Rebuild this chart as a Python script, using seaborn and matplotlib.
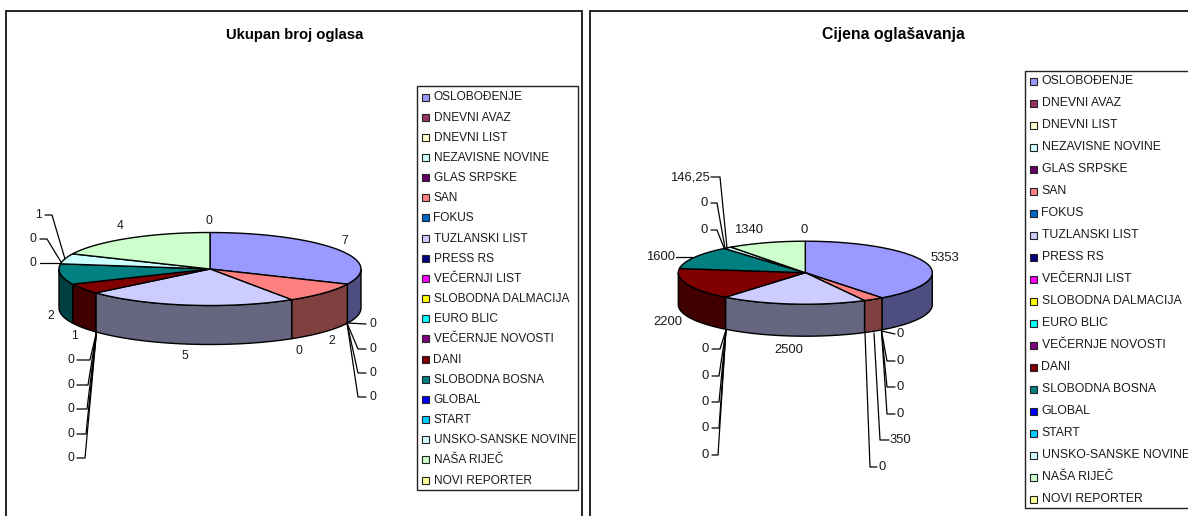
import numpy as np
import matplotlib
matplotlib.use("Agg")
import matplotlib.pyplot as plt
from matplotlib.patches import Rectangle
import seaborn as sns

newspapers = ["OSLOBOĐENJE", "DNEVNI AVAZ", "DNEVNI LIST", "NEZAVISNE NOVINE", "GLAS SRPSKE",
              "SAN", "FOKUS", "TUZLANSKI LIST", "PRESS RS", "VEČERNJI LIST",
              "SLOBODNA DALMACIJA", "EURO BLIC", "VEČERNJE NOVOSTI", "DANI", "SLOBODNA BOSNA",
              "GLOBAL", "START", "UNSKO-SANSKE NOVINE", "NAŠA RIJEČ", "NOVI REPORTER"]
broj_oglasa = [7, 0, 0, 0, 0, 2, 0, 5, 0, 0, 0, 0, 0, 1, 2, 0, 0, 1, 4, 0]
cijena = [5353, 0, 0, 0, 0, 350, 0, 2500, 0, 0, 0, 0, 0, 2200, 1600, 0, 0, 146.25, 1340, 0]
cijena_txt = ["5353", "0", "0", "0", "0", "350", "0", "2500", "0", "0", "0", "0", "0", "2200", "1600",
              "0", "0", "146,25", "1340", "0"]
colors = ["#9999FF", "#993366", "#FFFFCC", "#CCFFFF", "#660066", "#FF8080", "#0066CC", "#CCCCFF",
          "#000080", "#FF00FF", "#FFFF00", "#00FFFF", "#800080", "#800000", "#008080", "#0000FF",
          "#00CCFF", "#CCFFFF", "#CCFFCC", "#FFFF99"]

sns.set_theme(style="white")
plt.rcParams["font.family"] = ["Liberation Sans", "DejaVu Sans"]
palette = sns.color_palette(colors)

fig = plt.figure(figsize=(11.88, 5.16), dpi=100)
ax = fig.add_axes([0, 0, 1, 1])
ax.set_xlim(0, 1188)
ax.set_ylim(516, 0)
ax.axis("off")

TXT = "#1a1a1a"


def arc(cx, cy, rx, ry, a0, a1, dy=0):
    t = np.radians(np.linspace(a0, a1, 60))
    return cx + rx * np.sin(t), cy - ry * np.cos(t) + dy


def pie3d(values, cx, cy, rx, ry, depth):
    vals = np.array(values, dtype=float)
    ends = np.cumsum(vals) / vals.sum() * 360
    starts = ends - vals / vals.sum() * 360
    # rim first, only the front half shows
    for a0, a1, c, v in zip(starts, ends, palette, vals):
        b0, b1 = max(a0, 90), min(a1, 270)
        if v == 0 or b1 <= b0:
            continue
        x, y = arc(cx, cy, rx, ry, b0, b1)
        xb, yb = arc(cx, cy, rx, ry, b0, b1, depth)
        ax.fill(np.r_[x, xb[::-1]], np.r_[y, yb[::-1]], color=np.array(c) * 0.5, ec="black", lw=1)
    for a0, a1, c, v in zip(starts, ends, palette, vals):
        if v == 0:
            continue
        x, y = arc(cx, cy, rx, ry, a0, a1)
        ax.fill(np.r_[cx, x], np.r_[cy, y], color=c, ec="black", lw=1)


def legend(x0, y0, x1, y1, first, step, size):
    ax.add_patch(Rectangle((x0, y0), x1 - x0, y1 - y0, fc="white", ec="#222222", lw=1, zorder=2))
    for i, (name, c) in enumerate(zip(newspapers, palette)):
        y = first + i * step
        ax.add_patch(Rectangle((x0 + 5, y - 3.5), 7, 7, fc=c, ec="#222222", lw=0.8, zorder=3))
        ax.text(x0 + 17, y + 0.5, name, fontsize=size, color=TXT, va="center", ha="left", zorder=3)


def labels(texts, spots, size):
    # spots: one (label x, label y, leader points) per slice
    for t, (x, y, line) in zip(texts, spots):
        ax.text(x, y, t, fontsize=size, color=TXT, ha="center", va="center", zorder=4)
        if line:
            ax.plot(*zip(*line), color="black", lw=0.9, zorder=1)


# chart frames
ax.add_patch(Rectangle((6, 11), 576, 520, fc="white", ec="black", lw=1.2, zorder=0))
ax.add_patch(Rectangle((589.5, 11), 620, 520, fc="white", ec="black", lw=1.2, zorder=0))

ax.text(294.5, 34.5, "Ukupan broj oglasa", fontsize=10.7, fontweight="bold", color="black", ha="center", va="center")
ax.text(893.5, 35, "Cijena oglašavanja", fontsize=11.4, fontweight="bold", color="black", ha="center", va="center")

# left chart
pie3d(broj_oglasa, 210, 269, 151, 36.5, 39)
a = (347, 323)
b = (96.5, 332)
left_spots = [
    (345, 241, None),
    (373, 324, [a, (366, 324)]),
    (373, 349, [a, (358, 349), (366, 349)]),
    (373, 373, [a, (358, 373), (366, 373)]),
    (373, 397, [a, (358, 397), (366, 397)]),
    (332, 341, None),
    (299, 351, None),
    (185, 356, None),
    (71, 360, [b, (90, 360), (77, 360)]),
    (71, 385, [b, (88, 385), (77, 385)]),
    (71, 409, [b, (87, 409), (77, 409)]),
    (71, 434, [b, (86, 434), (77, 434)]),
    (71, 458, [b, (85, 458), (77, 458)]),
    (74, 336, None),
    (51, 316, None),
    (33, 263, [(60, 263), (40, 263)]),
    (33, 239, [(61, 262), (47, 239), (40, 239)]),
    (38, 215, [(65, 259), (52, 215), (45, 215)]),
    (120, 226, None),
    (209, 221, None),
]
labels([str(v) for v in broj_oglasa], left_spots, 8.8)
legend(416.5, 85.5, 578, 490, 97, 20.16, 8.6)

# right chart
pie3d(cijena, 805.3, 272.7, 127, 31.5, 32)
c = (881.5, 331)
d = (726, 330)
right_spots = [
    (945, 258, None),
    (900, 334, [c, (895, 334)]),
    (900, 361, [c, (887, 361), (895, 361)]),
    (900, 387, [c, (887, 387), (895, 387)]),
    (900, 414, [c, (887, 414), (895, 414)]),
    (900, 440, [(874, 333), (880, 440), (889, 440)]),
    (882, 467, [(865, 333), (870, 467), (877, 467)]),
    (789, 350, None),
    (705, 349, [d, (720, 349), (712, 349)]),
    (705, 376, [d, (719, 376), (712, 376)]),
    (705, 402, [d, (719, 402), (712, 402)]),
    (705, 428, [d, (719, 428), (712, 428)]),
    (705, 455, [d, (718, 455), (712, 455)]),
    (668, 322, None),
    (661, 257, [(692, 257), (676, 257)]),
    (704, 230, [(724, 248), (717, 230), (711, 230)]),
    (704, 203, [(725, 248), (717, 203), (711, 203)]),
    (690, 177, [(727, 248), (720, 177), (711, 177)]),
    (749, 230, None),
    (804, 230, None),
]
labels(cijena_txt, right_spots, 9.4)
legend(1024.5, 70.5, 1200, 508, 81, 22, 8.8)

fig.savefig("out.png", dpi=100)
